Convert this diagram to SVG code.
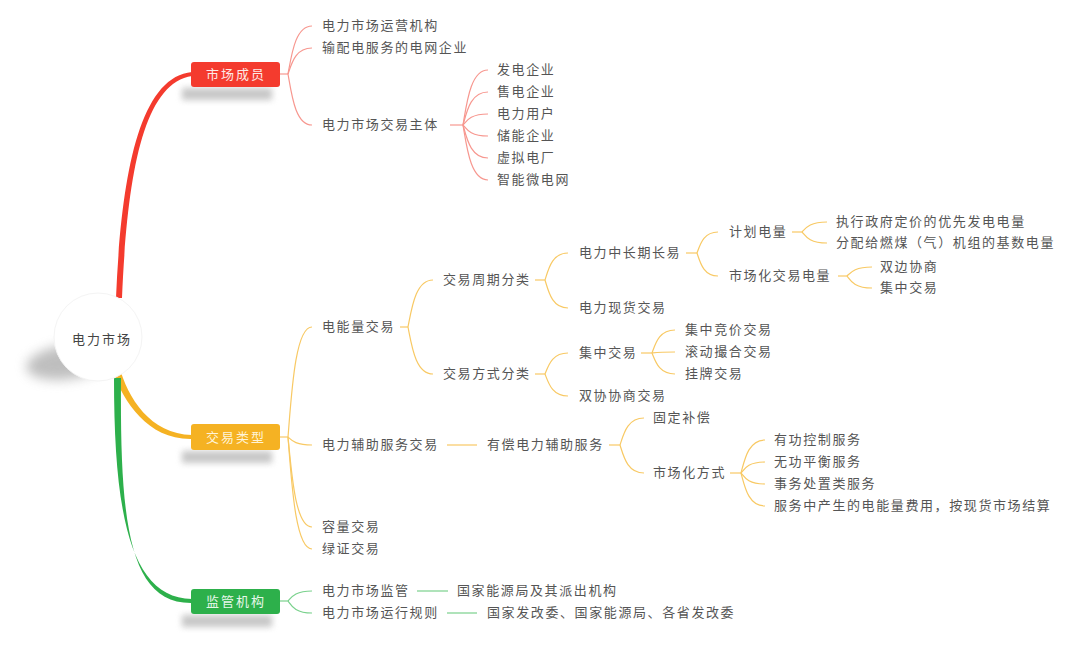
<svg xmlns="http://www.w3.org/2000/svg" width="1080" height="648" viewBox="0 0 1080 648">
<defs>
<filter id="blur" x="-50%" y="-50%" width="200%" height="200%"><feGaussianBlur stdDeviation="3"/></filter>
<filter id="blur2" x="-50%" y="-50%" width="200%" height="200%"><feGaussianBlur stdDeviation="6"/></filter>
<style>
.t{font-family:"Noto Sans CJK SC","Noto Sans",sans-serif;font-size:13px;fill:#555;letter-spacing:1.6px;dominant-baseline:central}
.nt{font-family:"Noto Sans CJK SC","Noto Sans",sans-serif;font-size:13px;letter-spacing:2px;dominant-baseline:central;text-anchor:middle}
.lr{fill:none;stroke:#f7978f;stroke-width:1.2}
.ly{fill:none;stroke:#f8c964;stroke-width:1.2}
.lg{fill:none;stroke:#79d18c;stroke-width:1.2}
.sh{fill:#9a9a9a;opacity:.55;filter:url(#blur)}
</style>
</defs>
<rect width="1080" height="648" fill="#fff"/>

<g id="connectors">
<!-- main branches -->
<path d="M116 298 C121 180 138 77 192 72 L192 76 C142 83 127 180 122 298 Z" fill="#f43b2e"/>
<path d="M119 366 C128 398 150 434 192 435 L192 439 C148 440 124 402 113 372 Z" fill="#f5b223"/>
<path d="M114 378 C114 520 132 598 192 599 L192 603 C128 604 120 520 121 378 Z" fill="#2db04b"/>

<!-- red -->
<path class="lr" d="M280 74 H288"/>
<path class="lr" d="M288 74 C291.6 54.8 295.2 26 312 26"/>
<path class="lr" d="M288 74 C291.6 63.6 295.2 48 312 48"/>
<path class="lr" d="M288 74 C291.6 94.4 295.2 125 312 125"/>
<path class="lr" d="M450 125 H463"/>
<path class="lr" d="M463 125 C466.75 103 470.5 70 488 70"/>
<path class="lr" d="M463 125 C466.75 111.8 470.5 92 488 92"/>
<path class="lr" d="M463 125 C466.75 120.6 470.5 114 488 114"/>
<path class="lr" d="M463 125 C466.75 129.4 470.5 136 488 136"/>
<path class="lr" d="M463 125 C466.75 138.2 470.5 158 488 158"/>
<path class="lr" d="M463 125 C466.75 147 470.5 180 488 180"/>

<!-- yellow -->
<path class="ly" d="M280 437 H288"/>
<path class="ly" d="M288 437 C291.6 393 295.2 327 312 327"/>
<path class="ly" d="M288 437 C291.6 440.2 295.2 445 312 445"/>
<path class="ly" d="M288 437 C291.6 473 295.2 527 312 527"/>
<path class="ly" d="M288 437 C291.6 481.8 295.2 549 312 549"/>
<path class="ly" d="M400 327 H408"/>
<path class="ly" d="M408 327 C411.75 308.2 415.5 280 433 280"/>
<path class="ly" d="M408 327 C411.75 345.8 415.5 374 433 374"/>
<path class="ly" d="M535 280 H545"/>
<path class="ly" d="M545 280 C548.45 269.2 551.9 253 568 253"/>
<path class="ly" d="M545 280 C548.45 291.2 551.9 308 568 308"/>
<path class="ly" d="M535 374 H545"/>
<path class="ly" d="M545 374 C548.45 365.6 551.9 353 568 353"/>
<path class="ly" d="M545 374 C548.45 382.8 551.9 396 568 396"/>
<path class="ly" d="M686 253 H697"/>
<path class="ly" d="M697 253 C700.15 244.6 703.3 232 718 232"/>
<path class="ly" d="M697 253 C700.15 262.2 703.3 276 718 276"/>
<path class="ly" d="M792 232 H802"/>
<path class="ly" d="M802 232 C805.75 228 809.5 222 827 222"/>
<path class="ly" d="M802 232 C805.75 236.4 809.5 243 827 243"/>
<path class="ly" d="M838 276 H847"/>
<path class="ly" d="M847 276 C850.75 272.4 854.5 267 872 267"/>
<path class="ly" d="M847 276 C850.75 280.8 854.5 288 872 288"/>
<path class="ly" d="M641 353 H652"/>
<path class="ly" d="M652 353 C655.45 343.8 658.9 330 675 330"/>
<path class="ly" d="M652 353 C655.45 352.6 658.9 352 675 352"/>
<path class="ly" d="M652 353 C655.45 361.4 658.9 374 675 374"/>
<path class="ly" d="M447 445 H477"/>
<path class="ly" d="M609 445 H620"/>
<path class="ly" d="M620 445 C623.6 434.2 627.2 418 644 418"/>
<path class="ly" d="M620 445 C623.6 456.2 627.2 473 644 473"/>
<path class="ly" d="M730 473 H741"/>
<path class="ly" d="M741 473 C744.6 459.8 748.2 440 765 440"/>
<path class="ly" d="M741 473 C744.6 468.6 748.2 462 765 462"/>
<path class="ly" d="M741 473 C744.6 477.4 748.2 484 765 484"/>
<path class="ly" d="M741 473 C744.6 486.2 748.2 506 765 506"/>

<!-- green -->
<path class="lg" d="M280 601 H288"/>
<path class="lg" d="M288 601 C291.6 597 295.2 591 312 591"/>
<path class="lg" d="M288 601 C291.6 605.8 295.2 613 312 613"/>
<path class="lg" d="M417 591 H448"/>
<path class="lg" d="M447 613 H477"/>
</g>

<g id="root">
<ellipse cx="68" cy="362" rx="42" ry="17" fill="#8a8a8a" opacity=".55" filter="url(#blur2)" transform="rotate(-8 68 362)"/>
<circle cx="98" cy="337" r="44" fill="#fff"/>
<circle cx="98" cy="337" r="44" fill="none" stroke="#f4f4f4" stroke-width="1"/>
<text class="nt" x="102" y="338" fill="#444">电力市场</text>
</g>

<g id="n-members">
<rect class="sh" x="182" y="88" width="90" height="12"/>
<rect x="191" y="62" width="89" height="25" rx="3" fill="#f43b2e"/>
<text class="nt" x="236" y="73.5" fill="#fde9e6">市场成员</text>
</g>
<g id="n-types">
<rect class="sh" x="182" y="451" width="90" height="12"/>
<rect x="191" y="424" width="89" height="26" rx="3" fill="#f5b223"/>
<text class="nt" x="236" y="436.5" fill="#fff4d8">交易类型</text>
</g>
<g id="n-regulator">
<rect class="sh" x="182" y="615" width="90" height="12"/>
<rect x="191" y="589" width="89" height="25" rx="3" fill="#2db04b"/>
<text class="nt" x="236" y="600.5" fill="#e6f7e9">监管机构</text>
</g>

<g id="red-children" transform="translate(0,-1.5)">
<text class="t" x="322" y="26">电力市场运营机构</text>
<text class="t" x="322" y="48">输配电服务的电网企业</text>
<text class="t" x="322" y="125">电力市场交易主体</text>
<text class="t" x="497" y="70">发电企业</text>
<text class="t" x="497" y="92">售电企业</text>
<text class="t" x="497" y="114">电力用户</text>
<text class="t" x="497" y="136">储能企业</text>
<text class="t" x="497" y="158">虚拟电厂</text>
<text class="t" x="497" y="180">智能微电网</text>
</g>

<g id="yellow-children" transform="translate(0,-1.5)">
<text class="t" x="322" y="327">电能量交易</text>
<text class="t" x="443" y="280">交易周期分类</text>
<text class="t" x="443" y="374">交易方式分类</text>
<text class="t" x="579" y="253">电力中长期长易</text>
<text class="t" x="579" y="308">电力现货交易</text>
<text class="t" x="579" y="353">集中交易</text>
<text class="t" x="579" y="396">双协协商交易</text>
<text class="t" x="729" y="232">计划电量</text>
<text class="t" x="729" y="276">市场化交易电量</text>
<text class="t" x="836" y="222">执行政府定价的优先发电电量</text>
<text class="t" x="836" y="243">分配给燃煤（气）机组的基数电量</text>
<text class="t" x="880" y="267">双边协商</text>
<text class="t" x="880" y="288">集中交易</text>
<text class="t" x="685" y="330">集中竞价交易</text>
<text class="t" x="685" y="352">滚动撮合交易</text>
<text class="t" x="685" y="374">挂牌交易</text>
<text class="t" x="322" y="445">电力辅助服务交易</text>
<text class="t" x="487" y="445">有偿电力辅助服务</text>
<text class="t" x="653" y="418">固定补偿</text>
<text class="t" x="653" y="473">市场化方式</text>
<text class="t" x="774" y="440">有功控制服务</text>
<text class="t" x="774" y="462">无功平衡服务</text>
<text class="t" x="774" y="484">事务处置类服务</text>
<text class="t" x="774" y="506">服务中产生的电能量费用，按现货市场结算</text>
<text class="t" x="322" y="527">容量交易</text>
<text class="t" x="322" y="549">绿证交易</text>
</g>

<g id="green-children" transform="translate(0,-1.5)">
<text class="t" x="322" y="591">电力市场监管</text>
<text class="t" x="322" y="613">电力市场运行规则</text>
<text class="t" x="457" y="591">国家能源局及其派出机构</text>
<text class="t" x="487" y="613">国家发改委、国家能源局、各省发改委</text>
</g>
</svg>
